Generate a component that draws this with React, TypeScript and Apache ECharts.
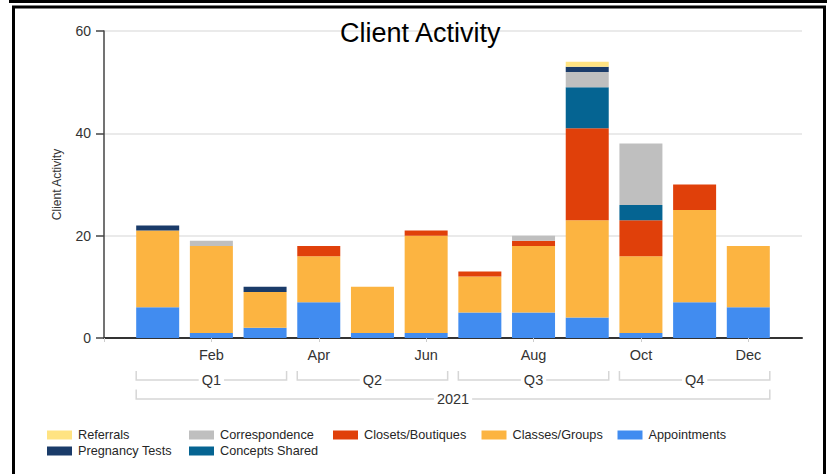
import React, { useEffect, useRef } from "react";
import * as echarts from "echarts";

const months = ["Jan", "Feb", "Mar", "Apr", "May", "Jun", "Jul", "Aug", "Sep", "Oct", "Nov", "Dec"];
const quarterLabels = ["Q1", "Q2", "Q3", "Q4"];
const yearLabel = "2021";
const yTicks = [0, 20, 40, 60];

const appointments = [6, 1, 2, 7, 1, 1, 5, 5, 4, 1, 7, 6];
const classesGroups = [15, 17, 7, 9, 9, 19, 7, 13, 19, 15, 18, 12];
const closetsBoutiques = [0, 0, 0, 2, 0, 1, 1, 1, 18, 7, 5, 0];
const conceptsShared = [0, 0, 0, 0, 0, 0, 0, 0, 8, 3, 0, 0];
const correspondence = [0, 1, 0, 0, 0, 0, 0, 1, 3, 12, 0, 0];
const pregnancyTests = [1, 0, 1, 0, 0, 0, 0, 0, 1, 0, 0, 0];
const referrals = [0, 0, 0, 0, 0, 0, 0, 0, 1, 0, 0, 0];

const seriesNames = [
  "Appointments",
  "Classes/Groups",
  "Closets/Boutiques",
  "Concepts Shared",
  "Correspondence",
  "Pregnancy Tests",
  "Referrals",
];
const seriesValues = [
  appointments,
  classesGroups,
  closetsBoutiques,
  conceptsShared,
  correspondence,
  pregnancyTests,
  referrals,
];
const seriesColors = ["#418CF0", "#FCB441", "#E0400A", "#056492", "#BFBFBF", "#1A3B69", "#FFE382"];

const FONT = "'Liberation Sans', Arial, sans-serif";

export default function App() {
  const ref = useRef<HTMLDivElement>(null);

  useEffect(() => {
    if (!ref.current) return;
    const chart = echarts.init(ref.current, null, { renderer: "svg" });

    const cats = ["", ...months, ""];
    const series = seriesNames.map((name, i) => ({
      name,
      type: "bar",
      stack: "total",
      barWidth: 43,
      itemStyle: { color: seriesColors[i] },
      data: [null, ...seriesValues[i], null],
    }));

    const legendItems = [
      { name: "Referrals", left: 47, row: 0 },
      { name: "Correspondence", left: 189, row: 0 },
      { name: "Closets/Boutiques", left: 333, row: 0 },
      { name: "Classes/Groups", left: 481.5, row: 0 },
      { name: "Appointments", left: 617.5, row: 0 },
      { name: "Pregnancy Tests", left: 47, row: 1 },
      { name: "Concepts Shared", left: 189, row: 1 },
    ];

    const option: any = {
      animation: false,
      textStyle: { fontFamily: FONT },
      title: {
        text: "Client Activity",
        left: 340,
        top: 19,
        padding: 0,
        textStyle: { fontFamily: FONT, fontSize: 27, fontWeight: "normal", color: "#000" },
      },
      legend: legendItems.map((it) => ({
        data: [it.name],
        left: it.left,
        top: it.row === 0 ? 428.5 : 444.5,
        padding: 0,
        icon: "rect",
        itemWidth: 25,
        itemHeight: 9,
        selectedMode: false,
        textStyle: { fontFamily: FONT, fontSize: 12.7, color: "#262626", padding: [0, 0, 0, 1] },
      })),
      grid: { left: 104, top: 31, width: 698, height: 307 },
      xAxis: {
        type: "category",
        data: cats,
        boundaryGap: false,
        axisLine: { lineStyle: { color: "#333", width: 2 } },
        axisTick: {
          show: true,
          length: 4,
          interval: (idx: number) => idx % 2 === 0 && idx < cats.length - 1,
          lineStyle: { color: "#ccc", width: 1 },
        },
        axisLabel: {
          interval: (idx: number) => idx % 2 === 0 && idx > 0 && idx < cats.length - 1,
          fontFamily: FONT,
          fontSize: 14.5,
          color: "#333",
          margin: 9,
        },
        splitLine: { show: false },
      },
      yAxis: {
        type: "value",
        min: yTicks[0],
        max: yTicks[yTicks.length - 1],
        interval: 20,
        name: "Client Activity",
        nameLocation: "middle",
        nameGap: 41,
        nameTextStyle: { fontFamily: FONT, fontSize: 12, color: "#333" },
        axisLine: { show: true, lineStyle: { color: "#444", width: 1.5 } },
        axisTick: { show: true, length: 8, lineStyle: { color: "#444", width: 1.5 } },
        axisLabel: { fontFamily: FONT, fontSize: 14, color: "#333", margin: 13 },
        splitLine: { lineStyle: { color: "#e3e3e3", width: 1.5 } },
      },
      series,
    };

    chart.setOption(option);

    // Build the grouped-axis brackets from the axis scale
    const half = 21.5;
    const px = (idx: number) => chart.convertToPixel({ xAxisIndex: 0 }, idx) as number;
    const lineColor = "#d6d6d6";
    const graphics: any[] = [];
    const bracket = (x1: number, x2: number, yLine: number, yTop: number, label: string) => {
      graphics.push({
        type: "polyline",
        silent: true,
        shape: { points: [[x1, yTop], [x1, yLine], [x2, yLine], [x2, yTop]] },
        style: { stroke: lineColor, lineWidth: 1.5, fill: null },
        z: 5,
      });
      graphics.push({
        type: "text",
        silent: true,
        x: (x1 + x2) / 2,
        y: yLine,
        z: 6,
        style: {
          text: label,
          fontFamily: FONT,
          fontSize: 14.5,
          fill: "#333",
          align: "center",
          verticalAlign: "middle",
          backgroundColor: "#fff",
          padding: [0, 3],
        },
      });
    };
    quarterLabels.forEach((q, i) => {
      const a = px(1 + i * 3) - half;
      const b = px(3 + i * 3) + half;
      bracket(a, b, 380, 371, q);
    });
    bracket(px(1) - half, px(months.length) + half, 399, 389.5, yearLabel);

    // frame
    graphics.push({
      type: "rect",
      silent: true,
      shape: { x: 9, y: 0, width: 818, height: 3 },
      style: { fill: "#000" },
      z: 10,
    });
    graphics.push({
      type: "rect",
      silent: true,
      shape: { x: 13.5, y: 7, width: 811, height: 520 },
      style: { fill: null, stroke: "#000", lineWidth: 3 },
      z: 10,
    });

    chart.setOption({ graphic: graphics });

    return () => chart.dispose();
  }, []);

  return (
    <div
      ref={ref}
      style={{ position: "fixed", left: 0, top: 0, width: 832, height: 474, background: "#fff" }}
    />
  );
}
